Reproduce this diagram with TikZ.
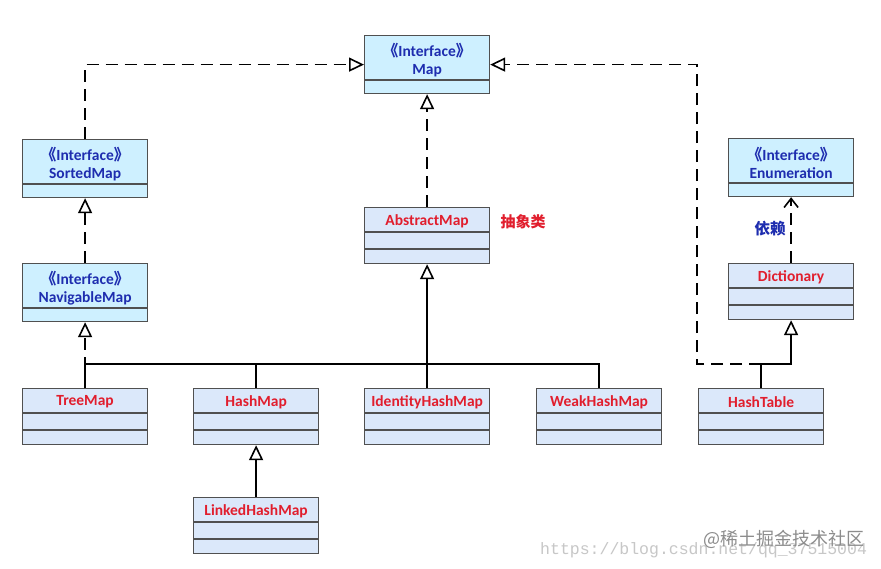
\documentclass[tikz,border=0pt]{standalone}
\usepackage{fontspec}
\setmainfont{Carlito}
\newfontfamily\cjk{Noto Sans CJK SC}
\setmonofont{Liberation Mono}
\usetikzlibrary{arrows.meta,calc}
\definecolor{ifill}{RGB}{206,240,255}
\definecolor{cfill}{RGB}{219,232,250}
\definecolor{bordc}{RGB}{80,80,80}
\definecolor{itxt}{RGB}{30,45,175}
\definecolor{ctxt}{RGB}{225,30,45}
\newcommand{\myLq}{{\cjk 《}}
\newcommand{\myRq}{{\cjk 》}}
\tikzset{
  x=1pt,y=-1pt,
  ibox/.style={draw=bordc,fill=ifill,line width=1.2pt,minimum width=125pt,minimum height=58pt,inner sep=0pt,anchor=north west},
  cbox/.style={draw=bordc,fill=cfill,line width=1.2pt,minimum width=125pt,minimum height=56pt,inner sep=0pt,anchor=north west},
  itext/.style={text=itxt,font=\fontsize{15.5}{18}\selectfont\bfseries,align=center,inner sep=0pt},
  ctext/.style={text=ctxt,font=\fontsize{15.5}{18}\selectfont\bfseries,inner sep=0pt},
  divline/.style={draw=bordc,line width=1.2pt},
  conn/.style={line width=1.8pt,black},
  tipz/.style={-{Triangle[open,width=14pt,length=15pt,line width=1.6pt]}},
  realz/.style={conn,dash pattern=on 12pt off 7pt,tipz},
  genz/.style={conn,tipz},
  depz/.style={conn,dash pattern=on 12pt off 7pt,-{Straight Barb[width=14pt,length=9pt,line width=1.6pt]}},
  plainz/.style={conn}
}
\newcommand{\ibx}[4]{%
  \node[ibox] (#1) at (#2,#3) {};
  \node[itext] (#1t) at ($(#1.north)+(0,25)$) {\myLq Interface\myRq\\#4};
  \draw[divline] ($(#1.north west)+(0,45)$) -- ($(#1.north east)+(0,45)$);
}
\newcommand{\cbx}[4]{%
  \node[cbox] (#1) at (#2,#3) {};
  \node[ctext] (#1t) at ($(#1.north)+(0,14)$) {#4};
  \draw[divline] ($(#1.north west)+(0,25)$) -- ($(#1.north east)+(0,25)$);
  \draw[divline] ($(#1.north west)+(0,42)$) -- ($(#1.north east)+(0,42)$);
}
\begin{document}
\begin{tikzpicture}
\useasboundingbox[fill=white] (0,0) rectangle (881,569);
\coordinate (bus) at (426.5,364);
\coordinate (htbend) at (697,364);
% boxes
\ibx{map}{364}{35}{Map}
\ibx{sorted}{22}{139}{SortedMap}
\ibx{nav}{22}{263}{NavigableMap}
\ibx{enum}{728}{138}{Enumeration}
\cbx{abstract}{364}{207}{AbstractMap}
\cbx{dict}{728}{263}{Dictionary}
\cbx{tree}{22}{388}{TreeMap}
\cbx{hash}{193}{388}{HashMap}
\cbx{ident}{364}{388}{IdentityHashMap}
\cbx{weak}{536}{388}{WeakHashMap}
\cbx{htab}{698}{388}{HashTable}
\cbx{linked}{193}{497}{LinkedHashMap}
% labels
\node[text=ctxt,font=\cjk\fontsize{15}{17}\selectfont\bfseries,inner sep=0pt] (abslab) at (523,222) {抽象类};
\node[text=itxt,font=\cjk\fontsize{15.5}{17}\selectfont\bfseries,inner sep=0pt] (deplab) at (770,229) {依赖};
% connectors
\draw[realz] (sorted.north) |- (map.west);
\draw[realz] (abstract.north) -- (map.south);
\draw[realz] (nav.north) -- (sorted.south);
\draw[plainz] (tree.north) -- (tree.north |- bus) -- (weak.north |- bus) -- (weak.north);
\draw[realz] (tree.north) -- (nav.south);
\draw[plainz] (hash.north) -- (hash.north |- bus);
\draw[genz] (ident.north) -- (abstract.south);
\draw[genz] (linked.north) -- (hash.south);
\coordinate (htj) at (htab.north |- bus);
\draw[genz] (htab.north) -- (htj) -| (dict.south);
\draw[realz] (htj) -- (htbend) |- (map.east);
\draw[depz] (dict.north) -- (enum.south);
% watermark
\node[text=black!22,font=\ttfamily\fontsize{16.5}{18}\selectfont,inner sep=0pt,anchor=west] (wmurl) at (540,550) {https://blog.csdn.net/qq\_37515004};
\node[text=black!45,font=\cjk\fontsize{18}{20}\selectfont,inner sep=0pt,anchor=west] (wmjj) at (703,539) {@稀土掘金技术社区};
\end{tikzpicture}
\end{document}
